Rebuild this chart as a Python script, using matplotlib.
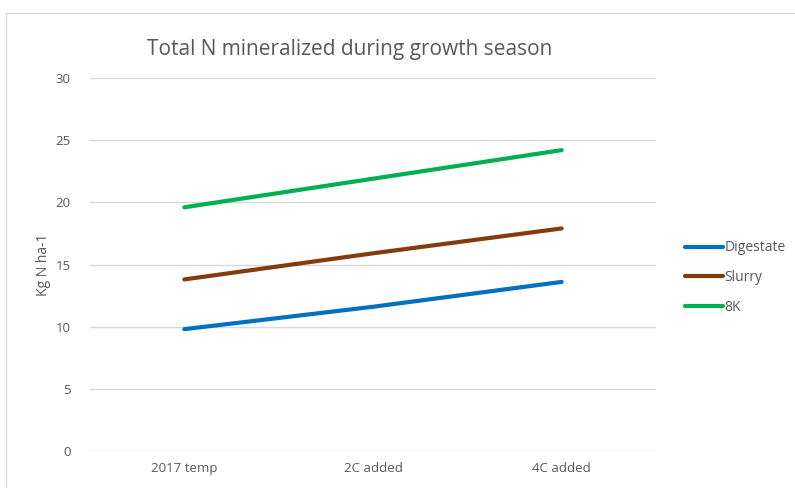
import matplotlib.pyplot as plt
from matplotlib.patches import Rectangle

categories = ['2017 temp', '2C added', '4C added']
digestate = [9.8, 11.6, 13.6]
slurry = [13.8, 15.9, 17.9]
k8 = [19.6, 21.9, 24.2]

plt.rcParams['font.family'] = ['Open Sans', 'DejaVu Sans']

fig = plt.figure(figsize=(7.95, 4.88), dpi=100)
# outer chart frame (cropped at right and bottom)
fig.patches.append(Rectangle((6 / 795, -0.1), 1.2, 1 - 13 / 488 + 0.1,
                             transform=fig.transFigure, fill=False,
                             edgecolor='#d9d9d9', lw=1))

ax = fig.add_axes([90 / 795, 1 - 451 / 488, 566 / 795, 373 / 488])
x = range(len(categories))
ax.plot(x, digestate, color='#0070C0', lw=3, solid_capstyle='round', label='Digestate')
ax.plot(x, slurry, color='#843C0C', lw=3, solid_capstyle='round', label='Slurry')
ax.plot(x, k8, color='#00B050', lw=3, solid_capstyle='round', label='8K')

ax.set_xlim(-0.5, 2.5)
ax.set_ylim(0, 30)
ax.set_yticks(range(0, 31, 5))
ax.set_xticks(list(x))
ax.set_xticklabels(categories)
ax.grid(axis='y', color='#d9d9d9', lw=1)
ax.set_axisbelow(True)
for s in ax.spines.values():
    s.set_visible(False)
ax.tick_params(length=0, colors='#595959', labelsize=9.5)
ax.tick_params(axis='y', pad=14)
ax.tick_params(axis='x', pad=8)

ax.set_ylabel('Kg N ha-1', color='#595959', fontsize=10, labelpad=3)
fig.text(350 / 795, 1 - 50 / 488, 'Total N mineralized during growth season',
         ha='center', va='center', fontsize=15, color='#595959')

ax.legend(loc='center left', bbox_to_anchor=(1.03, 0.465), frameon=False,
          fontsize=10, labelcolor='#595959', handlelength=2.7,
          handletextpad=0.1, labelspacing=1.05)

fig.savefig('out.png', dpi=100)
